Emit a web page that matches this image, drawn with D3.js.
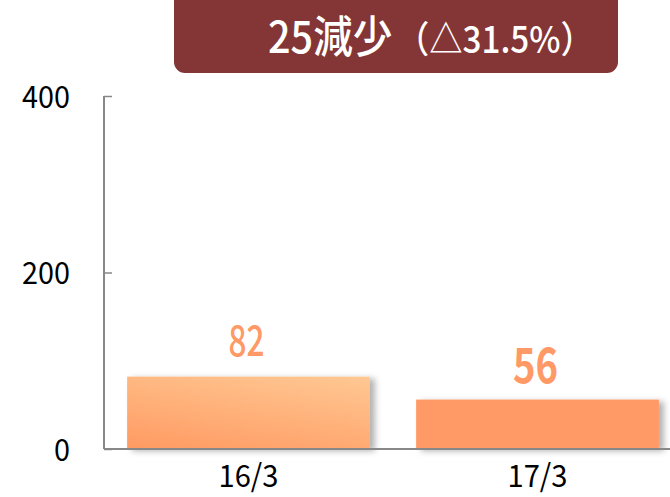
<!DOCTYPE html>
<html>
<head>
<meta charset="utf-8">
<script src="https://cdn.jsdelivr.net/npm/d3@7"></script>
<style>
  body { margin: 0; background: #fff; }
  svg { display: block; font-family: "Noto Sans CJK JP", "Noto Sans", sans-serif; }
</style>
</head>
<body>
<svg id="chart" width="670" height="497"></svg>
<script>
"use strict";

// data
let categories = ["16/3", "17/3"];
let values = [82, 56];
let yTicks = [0, 200, 400];
let titleMain = "25減少";
let titleSub = "（△31.5%）";

let svg = d3.select("#chart");

let defs = svg.append("defs");
let grad = defs.append("linearGradient")
  .attr("id", "bar1Grad")
  .attr("x1", "0%").attr("y1", "100%")
  .attr("x2", "60%").attr("y2", "-20%");
grad.append("stop").attr("offset", "0%").attr("stop-color", "#ff9a62");
grad.append("stop").attr("offset", "100%").attr("stop-color", "#ffc893");

let shadow = defs.append("filter").attr("id", "shadow")
  .attr("x", "-10%").attr("y", "-10%").attr("width", "130%").attr("height", "130%");
shadow.append("feDropShadow")
  .attr("dx", 5).attr("dy", 2).attr("stdDeviation", 3)
  .attr("flood-color", "#000").attr("flood-opacity", 0.3);

let y = d3.scaleLinear().domain([0, 400]).range([449, 96]);
let x = d3.scaleBand().domain(categories).range([104, 682])
  .paddingInner(0.16).paddingOuter(0.08);

// bars
svg.selectAll("rect.bar").data(values).enter()
  .append("rect")
  .attr("class", "bar")
  .attr("x", (d, i) => x(categories[i]))
  .attr("y", d => y(d))
  .attr("width", x.bandwidth())
  .attr("height", d => y(0) - y(d))
  .attr("filter", "url(#shadow)")
  .style("fill", (d, i) => i === 0 ? "url(#bar1Grad)" : "#ff9966");

// y axis
let yAxis = d3.axisRight(y).tickValues(yTicks).tickSize(8).tickFormat("");
let yg = svg.append("g").attr("transform", "translate(104,0)").call(yAxis);
yg.select(".domain").attr("stroke", "#888").attr("stroke-width", 2)
  .attr("d", `M0,${y(400)}V${y(0)}`);
yg.selectAll(".tick line").attr("stroke", "#888").attr("stroke-width", 1.5);

svg.selectAll("text.ylab").data(yTicks).enter()
  .append("text")
  .attr("class", "ylab")
  .attr("transform", d => `translate(70,${y(d) + 11.5}) scale(0.96,1)`)
  .attr("text-anchor", "end")
  .style("font-size", "30px")
  .style("fill", "#000")
  .text(d => d);

// x baseline
svg.append("line")
  .attr("x1", 104).attr("x2", 670)
  .attr("y1", y(0)).attr("y2", y(0))
  .attr("stroke", "#888").attr("stroke-width", 2);

// x labels
svg.selectAll("text.xlab").data(categories).enter()
  .append("text")
  .attr("class", "xlab")
  .attr("transform", d => `translate(${x(d) + x.bandwidth() / 2},487) scale(0.94,1)`)
  .attr("text-anchor", "middle")
  .style("font-size", "31px")
  .style("fill", "#000")
  .text(d => d);

// value labels
svg.selectAll("text.vlab").data(values).enter()
  .append("text")
  .attr("class", "vlab")
  .attr("transform", (d, i) => `translate(${x(categories[i]) + x.bandwidth() / 2 - 2},${i === 0 ? 356 : 383}) scale(${i === 0 ? 0.75 : 0.78},1)`)
  .attr("text-anchor", "middle")
  .style("font-size", (d, i) => i === 0 ? "42px" : "49px")
  .style("font-weight", (d, i) => i === 0 ? "500" : "bold")
  .style("fill", "#ff9966")
  .text(d => d);

// title box
svg.append("rect")
  .attr("x", 174).attr("y", -12)
  .attr("width", 444).attr("height", 85)
  .attr("rx", 11)
  .style("fill", "#843535");

let title = svg.append("text")
  .attr("transform", "translate(268,53) scale(0.9,1)")
  .style("fill", "#fff")
  .style("font-weight", "500");
title.append("tspan").style("font-size", "44px").text(titleMain);
title.append("tspan").attr("dx", 4).style("font-size", "37px").text(titleSub);
</script>
</body>
</html>
